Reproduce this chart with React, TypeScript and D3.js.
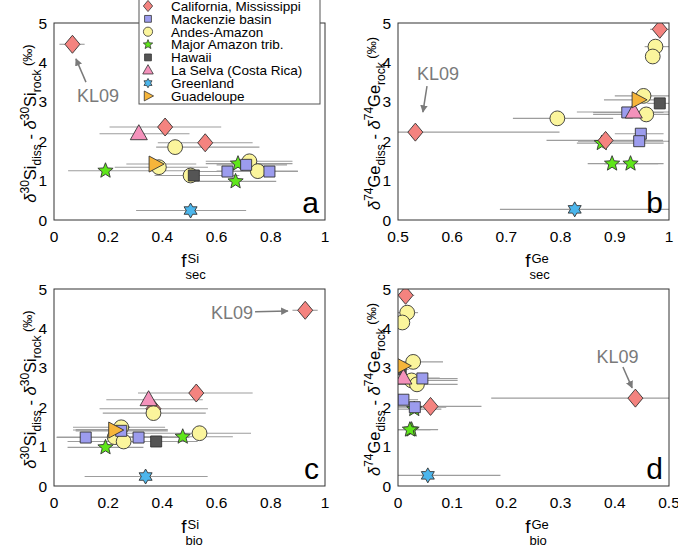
import React from "react";
import * as d3 from "d3";

const groupNames = [
  "California, Mississippi",
  "Mackenzie basin",
  "Andes-Amazon",
  "Major Amazon trib.",
  "Hawaii",
  "La Selva (Costa Rica)",
  "Greenland",
  "Guadeloupe",
];
const groupFill = ["#f4837f", "#9c9cee", "#fbf59c", "#5fe61a", "#555555", "#f492bb", "#4cb6ec", "#f6b53a"];
const groupShape = ["diamond", "square", "circle", "star", "square", "triangle", "hexagram", "triright"];

// δ30Si, f_sec, f_sec min, f_sec max, f_bio, f_bio min, f_bio max
const siCalifornia = [
  [4.46, 0.068, 0.02, 0.113, 0.927, 0.88, 0.973],
  [2.36, 0.41, 0.205, 0.617, 0.525, 0.31, 0.733],
  [1.96, 0.558, 0.383, 0.733, 0.367, 0.168, 0.568],
];
const siMackenzie = [
  [1.4, 0.709, 0.6, 0.86, 0.248, 0.08, 0.42],
  [1.23, 0.64, 0.5, 0.8, 0.117, 0.01, 0.29],
  [1.23, 0.795, 0.7, 0.9, 0.312, 0.15, 0.5],
];
const siAndes = [
  [1.85, 0.447, 0.377, 0.758, 0.367, 0.18, 0.56],
  [1.49, 0.721, 0.56, 0.88, 0.248, 0.07, 0.41],
  [1.34, 0.387, 0.224, 0.568, 0.537, 0.267, 0.727],
  [1.24, 0.752, 0.6, 0.9, 0.224, 0.01, 0.42],
  [1.13, 0.504, 0.371, 0.684, 0.257, 0.05, 0.43],
];
const siAmazon = [
  [1.25, 0.19, 0.052, 0.488, 0.475, 0.267, 0.66],
  [1.43, 0.679, 0.56, 0.88, 0.25, 0.08, 0.42],
  [0.98, 0.67, 0.5, 0.82, 0.19, 0.05, 0.33],
];
const siHawaii = [[1.13, 0.516, 0.4, 0.66, 0.377, 0.2, 0.53]];
const siLaSelva = [[2.19, 0.313, 0.168, 0.5, 0.349, 0.193, 0.549]];
const siGreenland = [[0.24, 0.504, 0.303, 0.709, 0.338, 0.113, 0.567]];
const siGuadeloupe = [[1.42, 0.373, 0.267, 0.525, 0.224, 0.07, 0.414]];

// δ74Ge, f_sec, f_sec min, f_sec max, f_bio, f_bio min, f_bio max
const geCalifornia = [
  [4.84, 0.983, 0.965, 1.0, 0.014, 0.0, 0.03],
  [2.23, 0.532, 0.49, 0.798, 0.438, 0.172, 0.52],
  [2.02, 0.883, 0.774, 0.989, 0.06, 0.0, 0.154],
];
const geMackenzie = [
  [2.73, 0.923, 0.86, 0.99, 0.045, 0.0, 0.11],
  [2.19, 0.948, 0.9, 0.99, 0.01, 0.0, 0.037],
  [2.0, 0.945, 0.832, 1.0, 0.031, 0.0, 0.089],
];
const geAndes = [
  [4.4, 0.975, 0.955, 1.0, 0.017, 0.0, 0.037],
  [4.15, 0.97, 0.96, 0.98, 0.008, 0.0, 0.015],
  [3.15, 0.953, 0.9, 1.0, 0.028, 0.0, 0.083],
  [2.68, 0.958, 0.86, 1.0, 0.025, 0.0, 0.11],
  [2.58, 0.794, 0.712, 0.897, 0.035, 0.0, 0.11],
];
const geAmazon = [
  [1.43, 0.895, 0.85, 0.98, 0.025, 0.0, 0.074],
  [1.43, 0.929, 0.88, 0.99, 0.022, 0.0, 0.06],
  [1.95, 0.876, 0.83, 0.99, 0.03, 0.0, 0.08],
];
const geHawaii = [[2.96, 0.983, 0.96, 1.0, 0.005, 0.0, 0.02]];
const geLaSelva = [[2.74, 0.935, 0.83, 1.0, 0.01, 0.0, 0.077]];
const geGreenland = [[0.27, 0.826, 0.688, 1.0, 0.055, 0.0, 0.189]];
const geGuadeloupe = [[3.05, 0.943, 0.88, 0.99, 0.008, 0.0, 0.03]];

const siData = [siCalifornia, siMackenzie, siAndes, siAmazon, siHawaii, siLaSelva, siGreenland, siGuadeloupe];
const geData = [geCalifornia, geMackenzie, geAndes, geAmazon, geHawaii, geLaSelva, geGreenland, geGuadeloupe];

const yTicks = [0, 1, 2, 3, 4, 5];
const xTicksUnit = [0, 0.2, 0.4, 0.6, 0.8, 1];
const xTicksGeSec = [0.5, 0.6, 0.7, 0.8, 0.9, 1];
const xTicksGeBio = [0, 0.1, 0.2, 0.3, 0.4, 0.5];

// stars first, then the rest in legend order
const drawOrder = [3, 0, 2, 1, 4, 5, 6, 7];

const FONT = "'Liberation Sans', Arial, Helvetica, sans-serif";
const GREY = "#7a7a7a";

function polygon(pts: number[][]) {
  return "M" + pts.map((p) => p[0].toFixed(2) + "," + p[1].toFixed(2)).join("L") + "Z";
}

function starPoints(n: number, ro: number, ri: number) {
  const pts: number[][] = [];
  for (let i = 0; i < n * 2; i++) {
    const r = i % 2 === 0 ? ro : ri;
    const a = (Math.PI * i) / n - Math.PI / 2;
    pts.push([r * Math.cos(a), r * Math.sin(a)]);
  }
  return pts;
}

function shapePath(shape: string, s: number) {
  switch (shape) {
    case "diamond":
      return polygon([[0, -9 * s], [7.5 * s, 0], [0, 9 * s], [-7.5 * s, 0]]);
    case "square":
      return polygon([[-5.5 * s, -5.5 * s], [5.5 * s, -5.5 * s], [5.5 * s, 5.5 * s], [-5.5 * s, 5.5 * s]]);
    case "circle":
      return d3.arc()({ innerRadius: 0, outerRadius: 7.4 * s, startAngle: 0, endAngle: 2 * Math.PI }) as string;
    case "star":
      return polygon(starPoints(5, 8 * s, 3.5 * s));
    case "triangle":
      return polygon([[0, -9 * s], [8.5 * s, 6 * s], [-8.5 * s, 6 * s]]);
    case "hexagram":
      return polygon(starPoints(6, 7.5 * s, 4.3 * s));
    default:
      return polygon([[-6 * s, -8 * s], [9 * s, 0], [-6 * s, 8 * s]]);
  }
}

const fmt = (d: number) => String(+d.toFixed(2));

type Box = { left: number; right: number; top: number; bottom: number };

function YLabel({ box, el, mass }: { box: Box; el: string; mass: string }) {
  const cy = (box.top + box.bottom) / 2;
  return (
    <text transform={`translate(${box.left - 18},${cy + 2}) rotate(-90)`} textAnchor="middle" fontSize={16.5} fontFamily={FONT}>
      <tspan fontStyle="italic">δ</tspan>
      <tspan fontSize={12} dy={-7}>{mass}</tspan>
      <tspan dy={7}>{el}</tspan>
      <tspan fontSize={12} dy={5}>diss</tspan>
      <tspan dy={-5}>{" - "}</tspan>
      <tspan fontStyle="italic">δ</tspan>
      <tspan fontSize={12} dy={-7}>{mass}</tspan>
      <tspan dy={7}>{el}</tspan>
      <tspan fontSize={12} dy={5}>rock</tspan>
      <tspan fontSize={13} dy={-9}>{" (‰)"}</tspan>
    </text>
  );
}

function XLabel({ box, el, sub }: { box: Box; el: string; sub: string }) {
  const cx = (box.left + box.right) / 2;
  return (
    <g fontFamily={FONT}>
      <text x={cx - 3} y={box.bottom + 47} textAnchor="end" fontSize={19}>f</text>
      <text x={cx - 2} y={box.bottom + 43} fontSize={13}>{el}</text>
      <text x={cx - 4} y={box.bottom + 59} fontSize={13}>{sub}</text>
    </g>
  );
}

type Note = { text: number[]; from: number[]; to: number[] };

function Panel(props: {
  id: string;
  box: Box;
  xTicks: number[];
  groups: number[][][];
  col: number;
  el: string;
  mass: string;
  sub: string;
  letter: string;
  note: Note;
}) {
  const { id, box, xTicks, groups, col, el, mass, sub, letter, note } = props;
  const x = d3.scaleLinear().domain([xTicks[0], xTicks[xTicks.length - 1]]).range([box.left, box.right]);
  const y = d3.scaleLinear().domain([0, 5]).range([box.bottom, box.top]);
  const clip = `clip-${id}`;
  return (
    <g>
      <defs>
        <clipPath id={clip}>
          <rect x={box.left} y={box.top} width={box.right - box.left} height={box.bottom - box.top} />
        </clipPath>
      </defs>
      <g clipPath={`url(#${clip})`}>
        {drawOrder.map((gi) =>
          groups[gi].map((r, i) => (
            <line key={`e${gi}-${i}`} x1={x(r[col + 1])} x2={x(r[col + 2])} y1={y(r[0])} y2={y(r[0])} stroke="#9d9d9d" strokeWidth={1.1} />
          ))
        )}
      </g>
      <g clipPath={`url(#${clip})`}>
        {drawOrder.map((gi) =>
          groups[gi].map((r, i) => (
            <path
              key={`m${gi}-${i}`}
              d={shapePath(groupShape[gi], 1)}
              transform={`translate(${x(r[col])},${y(r[0])})`}
              fill={groupFill[gi]}
              stroke="#333"
              strokeWidth={0.9}
            />
          ))
        )}
      </g>
      <rect x={box.left} y={box.top} width={box.right - box.left} height={box.bottom - box.top} fill="none" stroke="#333" strokeWidth={1} />
      <g fontFamily={FONT} fontSize={15.5}>
        {yTicks.map((t) => (
          <text key={t} x={box.left - 7} y={y(t)} dy="0.36em" textAnchor="end">{t}</text>
        ))}
        {xTicks.map((t) => (
          <text key={t} x={x(t)} y={box.bottom + 22} textAnchor="middle">{fmt(t)}</text>
        ))}
      </g>
      <text x={box.right - 6} y={box.bottom - 7} textAnchor="end" fontSize={30} fontFamily={FONT}>{letter}</text>
      <text x={x(note.text[0])} y={y(note.text[1])} dy="0.36em" textAnchor="middle" fontSize={18} fill={GREY} fontFamily={FONT}>KL09</text>
      <line x1={x(note.from[0])} y1={y(note.from[1])} x2={x(note.to[0])} y2={y(note.to[1])} stroke={GREY} strokeWidth={1.5} markerEnd="url(#arrowhead)" />
      <YLabel box={box} el={el} mass={mass} />
      <XLabel box={box} el={el} sub={sub} />
    </g>
  );
}

function Legend() {
  const left = 139;
  const rowY = (i: number) => 6 + i * 12.85;
  return (
    <g>
      <rect x={left} y={-3} width={181} height={107} fill="#fff" stroke="#555" strokeWidth={1} />
      {groupNames.map((name, i) => (
        <g key={name}>
          <path d={shapePath(groupShape[i], 0.62)} transform={`translate(${left + 9},${rowY(i)})`} fill={groupFill[i]} stroke="#333" strokeWidth={0.8} />
          <text x={left + 32} y={rowY(i)} dy="0.36em" fontSize={13.5} fontFamily={FONT}>{name}</text>
        </g>
      ))}
    </g>
  );
}

const boxA: Box = { left: 54, right: 325, top: 23, bottom: 220 };
const boxB: Box = { left: 398, right: 669, top: 23, bottom: 220 };
const boxC: Box = { left: 54, right: 325, top: 289, bottom: 486 };
const boxD: Box = { left: 398, right: 669, top: 289, bottom: 486 };

export default function App() {
  return (
    <svg width={678} height={548} style={{ position: "absolute", left: 0, top: 0, background: "#fff" }}>
      <defs>
        <marker id="arrowhead" viewBox="0 0 10 10" refX={9} refY={5} markerWidth={5} markerHeight={5} orient="auto" markerUnits="strokeWidth">
          <path d="M0,0 L10,5 L0,10 Z" fill={GREY} />
        </marker>
      </defs>
      <Panel id="a" box={boxA} xTicks={xTicksUnit} groups={siData} col={1} el="Si" mass="30" sub="sec" letter="a"
        note={{ text: [0.162, 3.17], from: [0.118, 3.5], to: [0.081, 4.09] }} />
      <Panel id="b" box={boxB} xTicks={xTicksGeSec} groups={geData} col={1} el="Ge" mass="74" sub="sec" letter="b"
        note={{ text: [0.574, 3.71], from: [0.5535, 3.4], to: [0.546, 2.74] }} />
      <Panel id="c" box={boxC} xTicks={xTicksUnit} groups={siData} col={4} el="Si" mass="30" sub="bio" letter="c"
        note={{ text: [0.657, 4.4], from: [0.742, 4.42], to: [0.863, 4.44] }} />
      <Panel id="d" box={boxD} xTicks={xTicksGeBio} groups={geData} col={4} el="Ge" mass="74" sub="bio" letter="d"
        note={{ text: [0.405, 3.29], from: [0.415, 3.02], to: [0.432, 2.49] }} />
      <Legend />
    </svg>
  );
}
